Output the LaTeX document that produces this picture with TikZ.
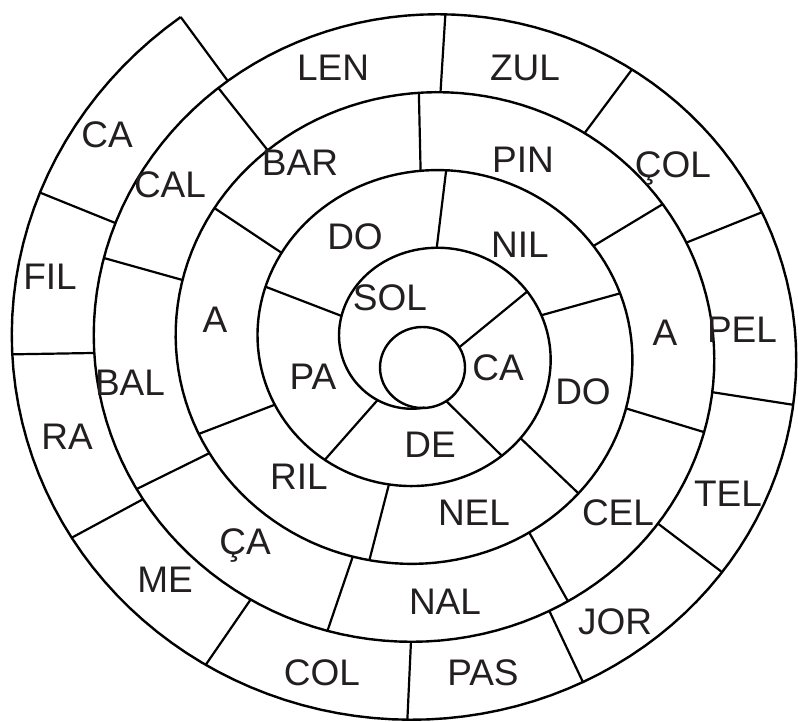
\documentclass[tikz,border=0pt]{standalone}
\usepackage{fontspec}
\setmainfont{Liberation Sans}
\usepackage{xcolor}
\definecolor{inkgray}{RGB}{35,31,32}

\begin{document}
\begin{tikzpicture}[
    x=1pt, y=-1pt,
    declare function={
      spx(\t)=424.5-(84.5+0.2278*\t)*cos(\t);
      spy(\t)=347.5-(79.5+0.2167*\t)*sin(\t);
    },
    every node/.style={font=\fontsize{37}{42}\selectfont, text=inkgray},
    syl/.style={inner sep=0pt},
    wall/.style={line width=2.4pt, line join=round},
    cut/.style={line width=2.2pt}
]
\useasboundingbox (0,0) rectangle (798,721);

% nucleo e espiral
\draw[wall] (422.5,367.5) ellipse [x radius=42.5pt, y radius=40.5pt];
\draw[wall] plot[domain=-90:1495, samples=600, variable=\t] ({spx(\t)},{spy(\t)});

% divisorias da primeira volta (saem do nucleo)
\foreach \p in {150,236}
  \draw[cut] ({422.5-42.5*cos(\p)},{367.5-40.5*sin(\p)}) -- ({spx(\p)},{spy(\p)});

% divisorias das outras voltas
\foreach \p in {310,382,456.6,523.7,585,643.8,698,755,808.8,867.6,917.7,961.8,
                1008,1052.6,1096.4,1133,1173.4,1205.3,1237.1,1269.3,1298.5,
                1325.8,1352.5,1383.2,1410.4,1439,1463,1495}
  \draw[cut] ({spx(\p-360)},{spy(\p-360)}) -- ({spx(\p)},{spy(\p)});

% silabas
\node[syl] (sol)  at (390,298) {SOL};
\node[syl] (caA)  at (498,368) {CA};
\node[syl] (de)   at (430,445) {DE};
\node[syl] (pa)   at (313,377) {PA};
\node[syl] (doA)  at (355,237) {DO};
\node[syl] (nil)  at (520,245) {NIL};
\node[syl] (doB)  at (583,392) {DO};
\node[syl] (nel)  at (474,513) {NEL};
\node[syl] (ril)  at (299,477) {RIL};
\node[syl] (aA)   at (215,320) {A};
\node[syl] (bar)  at (300,163) {BAR};
\node[syl] (pin)  at (523,160) {PIN};
\node[syl] (aB)   at (665,333) {A};
\node[syl] (cel)  at (618,513) {CEL};
\node[syl] (nal)  at (445,602) {NAL};
\node[syl] (cca)  at (245,545) {ÇA};
\node[syl] (bal)  at (130,383) {BAL};
\node[syl] (cal)  at (170,185) {CAL};
\node[syl] (len)  at (333,68)  {LEN};
\node[syl] (zul)  at (525,68)  {ZUL};
\node[syl] (ccol) at (673,168) {ÇOL};
\node[syl] (pel)  at (742,330) {PEL};
\node[syl] (tel)  at (728,494) {TEL};
\node[syl] (jor)  at (615,622) {JOR};
\node[syl] (pas)  at (483,673) {PAS};
\node[syl] (col)  at (322,673) {COL};
\node[syl] (me)   at (165,580) {ME};
\node[syl] (ra)   at (67,437)  {RA};
\node[syl] (fil)  at (50,277)  {FIL};
\node[syl] (caB)  at (107,135) {CA};

\end{tikzpicture}
\end{document}
